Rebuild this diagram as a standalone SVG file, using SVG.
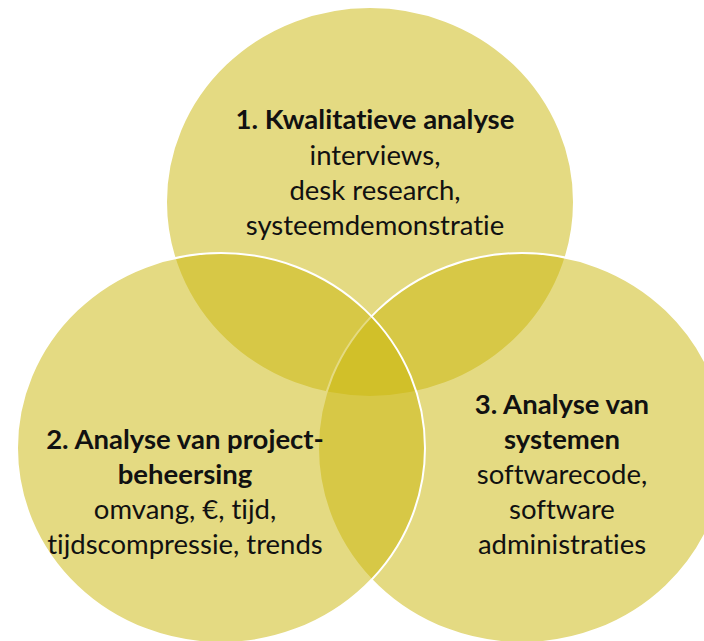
<svg xmlns="http://www.w3.org/2000/svg" width="704" height="641" viewBox="0 0 704 641">
<style>
.c{fill:#CBB80F;fill-opacity:0.52;stroke:#FFFFFF;stroke-width:2}
text{font-family:Lato,"Open Sans","Liberation Sans",sans-serif;font-size:27.5px;fill:#111;text-anchor:middle;font-variant-ligatures:none}
.b{font-weight:bold}
</style>
<rect width="704" height="641" fill="#FFFFFF"/>
<g id="circle-1">
<ellipse class="c" cx="370" cy="202" rx="204" ry="195"/>
</g>
<g id="circle-3">
<ellipse class="c" cx="522" cy="448" rx="204" ry="195"/>
</g>
<g id="circle-2">
<ellipse class="c" cx="221" cy="448" rx="204" ry="195"/>
</g>
<g id="label-1">
<text class="b" x="375" y="129">1. Kwalitatieve analyse</text>
<text x="375" y="165">interviews,</text>
<text x="375" y="200">desk research,</text>
<text x="375" y="235">systeemdemonstratie</text>
</g>
<g id="label-2">
<text class="b" x="185" y="449">2. Analyse van project-</text>
<text class="b" x="185" y="484">beheersing</text>
<text x="185" y="519">omvang, €, tijd,</text>
<text x="185" y="554">tijdscompressie, trends</text>
</g>
<g id="label-3">
<text class="b" x="562" y="414">3. Analyse van</text>
<text class="b" x="562" y="449">systemen</text>
<text x="562" y="484">softwarecode,</text>
<text x="562" y="519">software</text>
<text x="562" y="554">administraties</text>
</g>
<g id="connectors"></g>
</svg>
